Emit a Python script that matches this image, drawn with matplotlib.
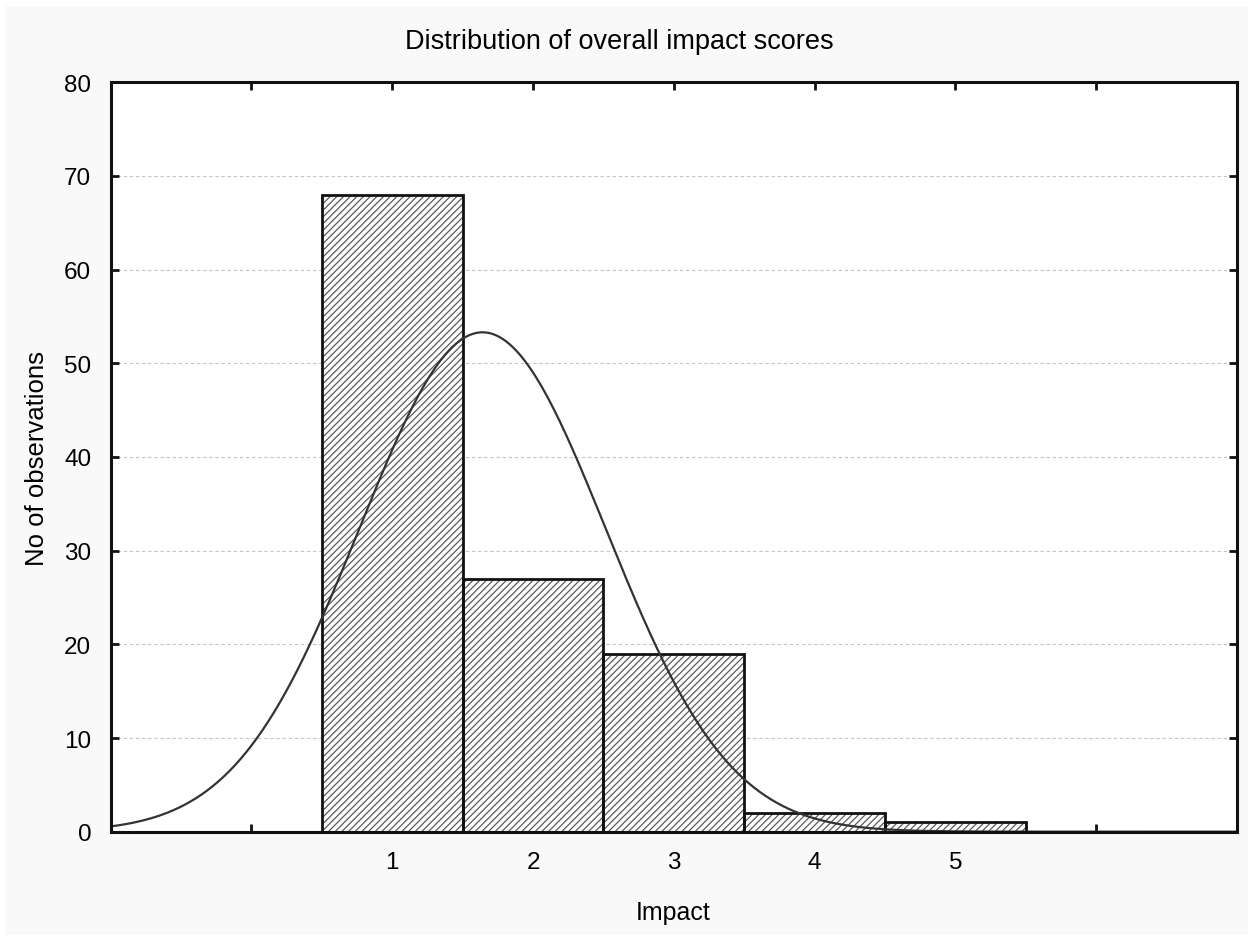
import numpy as np
import matplotlib
matplotlib.use("Agg")
import matplotlib.pyplot as plt
from matplotlib.patches import Rectangle

# Data
categories = [1, 2, 3, 4, 5]
counts = [68, 27, 19, 2, 1]
tick_positions = [0, 1, 2, 3, 4, 5, 6]
tick_labels = ["", "1", "2", "3", "4", "5", ""]
y_ticks = [0, 10, 20, 30, 40, 50, 60, 70, 80]

title = "Distribution of overall impact scores"
xlabel = "Impact"
ylabel = "No of observations"

plt.rcParams['font.family'] = ['Liberation Sans', 'DejaVu Sans']
plt.rcParams['hatch.linewidth'] = 0.9
plt.rcParams['hatch.color'] = '#5a5a5a'

W, H = 1253, 937
fig = plt.figure(figsize=(W / 100, H / 100), dpi=100, facecolor='white')
fig.patches.append(Rectangle((5 / W, 1 / H), (W - 10) / W, (H - 8) / H,
                             transform=fig.transFigure, facecolor='#f9f9f9',
                             edgecolor='none', zorder=-10))

ax = fig.add_axes([110.7 / W, 1 - 832.7 / H, (1237 - 110.7) / W, (832.7 - 83.3) / H])
ax.set_facecolor('white')

# grid
for yv in y_ticks[1:-1]:
    ax.axhline(yv, color='#c4c4c4', lw=0.8, ls=(0, (3, 2.5)), zorder=0)

x = np.array(categories, dtype=float)
c = np.array(counts, dtype=float)
ax.bar(x, c, width=1.0, facecolor='white', edgecolor='#5a5a5a', hatch='/////',
       linewidth=0, zorder=2)
ax.bar(x, c, width=1.0, fill=False, edgecolor='#111111', linewidth=2.0, zorder=3)

# fitted normal curve from data
n = c.sum()
mean = (x * c).sum() / n
std = np.sqrt(((x - mean) ** 2 * c).sum() / (n - 1))
xs = np.linspace(-1, 7, 600)
ys = n * 1.0 / (std * np.sqrt(2 * np.pi)) * np.exp(-0.5 * ((xs - mean) / std) ** 2)
ax.plot(xs, ys, color='#333333', lw=1.6, zorder=4, clip_on=True)

ax.set_xlim(-1, 7)
ax.set_ylim(0, 80)
ax.set_xticks(tick_positions)
ax.set_xticklabels(tick_labels)
ax.set_yticks(y_ticks)
ax.tick_params(direction='in', length=6, width=2, top=True, right=True,
               labelsize=17.5, pad=14, color='#111111')
ax.tick_params(axis='y', pad=14)
for s in ax.spines.values():
    s.set_linewidth(2.2)
    s.set_color('#111111')
    s.set_zorder(5)

fig.text(619.5 / W, 1 - 42 / H, title, ha='center', va='center', fontsize=19.5)
fig.text(673 / W, 1 - 913 / H, xlabel, ha='center', va='center', fontsize=18)
fig.text(37 / W, 1 - 458 / H, ylabel, ha='center', va='center', fontsize=18.5,
         rotation=90)

fig.savefig('out.png', dpi=100, facecolor=fig.get_facecolor())
